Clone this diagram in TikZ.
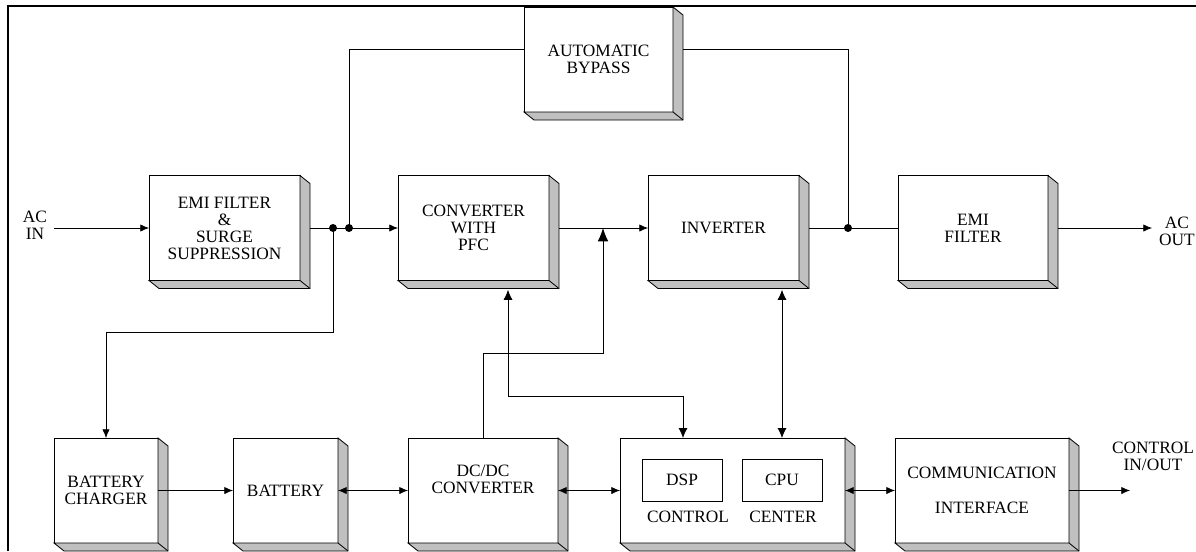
\documentclass[tikz,border=0pt]{standalone}
\usepackage{fontspec}
\setmainfont{Liberation Serif}
\newfontfamily\boxfont{Liberation Serif}
\usetikzlibrary{arrows.meta}
\definecolor{sidegray}{RGB}{192,192,192}
\tikzset{
  txt/.style={font=\boxfont\fontsize{13pt}{12.75pt}\selectfont, align=center, inner sep=0pt},
  block/.style={txt, draw=black, line width=0.75pt, fill=white, outer sep=0pt, minimum height=78.75pt},
  innerbox/.style={txt, draw=black, line width=0.75pt, outer sep=0pt, minimum width=60pt, minimum height=31.5pt},
  side/.style={fill=sidegray, draw=black, line width=0.6pt, line join=miter},
  wire/.style={draw=black, line width=0.6pt},
  arr/.style={wire, -{Latex[length=6.5pt,width=5.5pt]}},
  dbl/.style={wire, {Latex[length=6.5pt,width=5.5pt]}-{Latex[length=6.5pt,width=5.5pt]}},
  dblv/.style={wire, {Latex[length=7.5pt,width=6.8pt]}-{Latex[length=7.5pt,width=6.8pt]}},
  bigarr/.style={wire, -{Latex[length=10pt,width=8pt]}},
}
\begin{document}
\begin{tikzpicture}[x=0.75pt,y=-0.75pt]
\useasboundingbox (0,0) rectangle (1196,551);

% outer frame (left and top edges)
\draw[line width=1.5pt] (8,551) -- (8,6) -- (1196,6);

% power path blocks
\node[block, minimum width=113.25pt] (emi)  at (224.5,228) {EMI FILTER\\\&\\SURGE\\SUPPRESSION};
\node[block, minimum width=113.25pt] (conv) at (473.5,228) {CONVERTER\\WITH\\PFC};
\node[block, minimum width=113.25pt] (inv)  at (723.5,228) {INVERTER};
\node[block, minimum width=112.5pt]  (emo)  at (973,228)   {EMI\\FILTER};
\node[block, minimum width=111.75pt] (byp)  at (598.5,59.5) {AUTOMATIC\\BYPASS};

% battery and control blocks
\node[block, minimum width=78pt]     (chg)  at (106,490.5)   {BATTERY\\CHARGER};
\node[block, minimum width=78.75pt]  (bat)  at (285.5,490.5) {BATTERY};
\node[block, minimum width=112.5pt]  (dcdc) at (483,490.5)   {DC/DC\\CONVERTER\\\strut};
\node[block, minimum width=168.75pt] (ctrl) at (732.5,490.5) {};
\node[block, minimum width=130.5pt]  (comm) at (982,490.5)   {COMMUNICATION\\[14pt]INTERFACE};

% 3-D side faces
\foreach \n in {emi,conv,inv,emo,byp,chg,bat,dcdc,ctrl,comm}{
  \draw[side] (\n.south west) -- ([shift={(10,8)}]\n.south west) -- ([shift={(10,8)}]\n.south east)
     -- ([shift={(10,8)}]\n.north east) -- (\n.north east) -- (\n.south east) -- cycle;
  \draw[side] (\n.south east) -- ([shift={(10,8)}]\n.south east);
}

% contents of the control centre
\node[innerbox] (dsp) at (682,480) {DSP};
\node[innerbox] (cpu) at (782,480) {CPU};
\node[txt] (ctrlA) at (688,517) {CONTROL};
\node[txt] (ctrlB) at (783,517) {CENTER};

% terminal labels
\node[txt] (acin)  at (35,225)     {AC\\IN};
\node[txt] (acout) at (1177,231.5) {AC\\OUT};
\node[txt] (ctlio) at (1153,456)   {CONTROL\\IN/OUT};

% helper points
\coordinate (acstart) at (54,228);
\coordinate (j1) at (333,228);
\coordinate (j2) at (349,228);
\coordinate (j3) at (848,228);
\coordinate (j4) at (603,228);
\coordinate (k1) at (603,353);
\coordinate (cfb) at (508,396);
\coordinate (cfc) at (683,396);
\coordinate (acend) at (1152,228);
\coordinate (ioend) at (1130,490.5);
\coordinate (convb) at ([yshift=-7pt]conv.south);
\coordinate (invb) at ([yshift=-7pt]inv.south);

% main AC path
\draw[arr] (acstart) -- (emi.west);
\draw[arr] ([xshift=7.5pt]emi.east) -- (conv.west);
\draw[arr] ([xshift=7.5pt]conv.east) -- (inv.west);
\draw[wire] ([xshift=7.5pt]inv.east) -- (emo.west);
\draw[arr] ([xshift=7.5pt]emo.east) -- (acend);

% bypass path
\draw[wire] (j2) |- ([yshift=7.9pt]byp.west);
\draw[wire] ([xshift=7.5pt,yshift=7.9pt]byp.east) -| (j3);

% charger feed and DC link
\draw[arr] (j1) -- ++(0,104) -| (chg.north);
\draw[bigarr] (dcdc.north) |- (k1) -- (j4);

% control links
\draw[dblv] (convb -| cfb) |- (cfc) -- (ctrl.north -| cfc);
\draw[dblv] (invb -| cpu) -- (ctrl.north -| cpu);

% bottom row
\draw[arr] (chg.east) -- (bat.west);
\draw[dbl] (bat.east) -- (dcdc.west);
\draw[dbl] (dcdc.east) -- (ctrl.west);
\draw[dbl] (ctrl.east) -- (comm.west);
\draw[arr] (comm.east) -- (ioend);

% junction dots
\foreach \p in {j1,j2,j3} \fill (\p) circle (3pt);
\end{tikzpicture}
\end{document}
